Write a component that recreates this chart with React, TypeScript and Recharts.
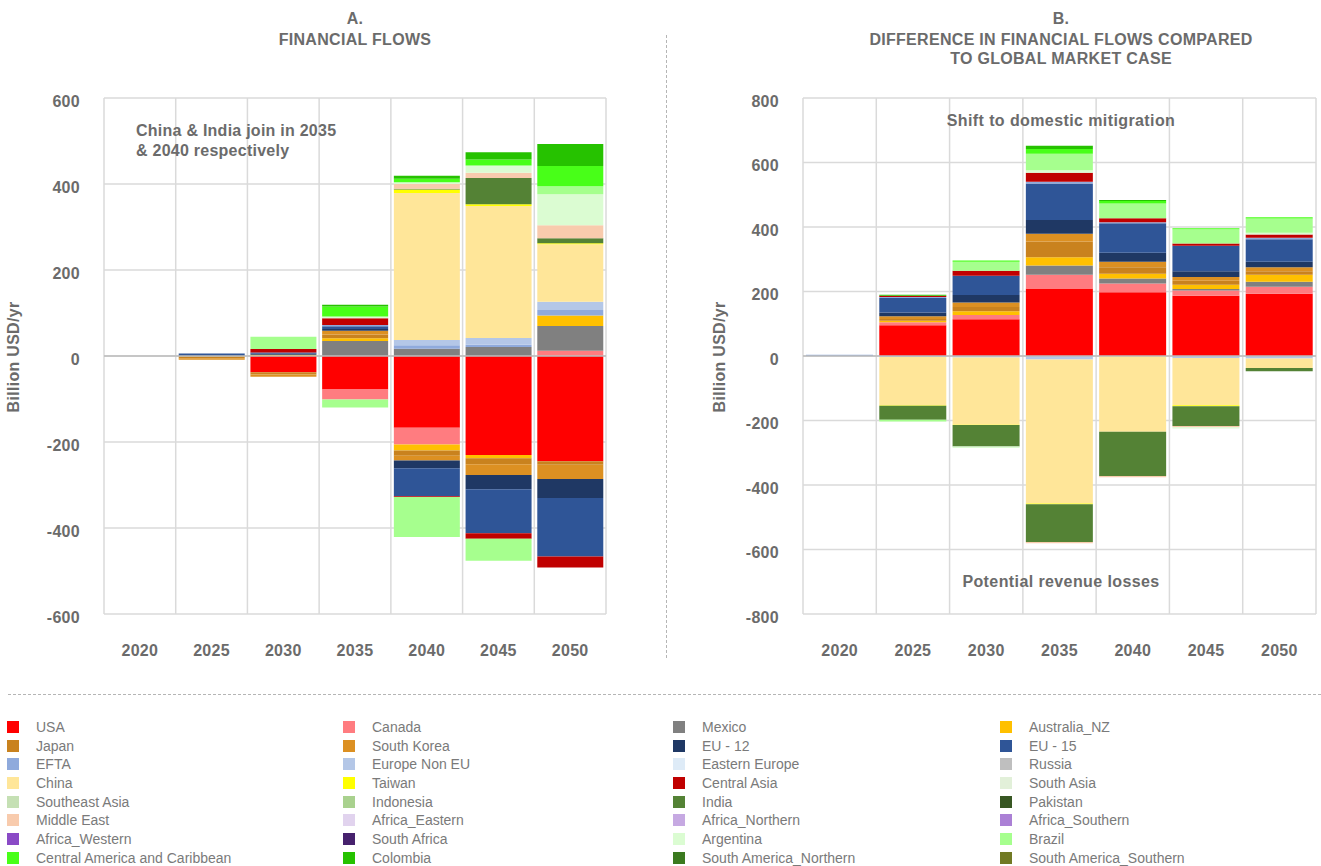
import React from 'react';
import { BarChart, Bar, XAxis, YAxis, CartesianGrid, ReferenceLine } from 'recharts';

const TEXT = '#6b6b6b';
const FONT = '"Liberation Sans", Arial, sans-serif';

const years = ['2020', '2025', '2030', '2035', '2040', '2045', '2050'];

const regions = [
  'USA', 'Canada', 'Mexico', 'Australia_NZ',
  'Japan', 'South Korea', 'EU - 12', 'EU - 15',
  'EFTA', 'Europe Non EU', 'Eastern Europe', 'Russia',
  'China', 'Taiwan', 'Central Asia', 'South Asia',
  'Southeast Asia', 'Indonesia', 'India', 'Pakistan',
  'Middle East', 'Africa_Eastern', 'Africa_Northern', 'Africa_Southern',
  'Africa_Western', 'South Africa', 'Argentina', 'Brazil',
  'Central America and Caribbean', 'Colombia', 'South America_Northern', 'South America_Southern',
];

const regionColors = [
  '#ff0000', '#ff7c80', '#808080', '#ffc000',
  '#c9821e', '#dc9022', '#1f3864', '#2f5597',
  '#8faadc', '#b4c7e7', '#deebf7', '#bfbfbf',
  '#ffe699', '#ffff00', '#c00000', '#e2f0d9',
  '#c5e0b4', '#a9d18e', '#548235', '#385723',
  '#f8cbad', '#e1d3ee', '#c6a9e2', '#ab80d5',
  '#8a4ac6', '#46216d', '#dbfcd2', '#a6ff8e',
  '#48ff18', '#26c200', '#3b7a1f', '#717a24',
];

// A. financial flows (billion USD/yr)
const aUSA = [0, 0, -38, -78, -167, -230, -245];
const aCanada = [0, 0, 0, -23, -39, 0, 12];
const aMexico = [0, 0, 0, 35, 17, 21, 58];
const aAustraliaNZ = [0, -1, 3, 6, -14, -8, 24];
const aJapan = [0, -4, -5, 9, -12, -14, -8];
const aSouthKorea = [0, -4, -5, 9, -11, -25, -33];
const aEU12 = [0, 2, 2, 4, -18, -33, -44];
const aEU15 = [0, 4, 3, 6, -65, -102, -136];
const aEFTA = [0, 0, 0, 3, 8, 5, 13];
const aEuropeNonEU = [0, 0, 0, 0, 12, 16, 19];
const aEasternEurope = [0, 0, 0, 0, 0, 0, 0];
const aRussia = [0, 0, 0, 0, 0, 0, 0];
const aChina = [0, 0, 0, 0, 342, 307, 134];
const aTaiwan = [0, 0, 0, 0, 8, 4, 2];
const aCentralAsia = [0, 0, 8, 16, -2, -13, -26];
const aSouthAsia = [0, 0, 0, 0, 0, 0, 0];
const aSoutheastAsia = [0, 0, 0, 0, 0, 0, 0];
const aIndonesia = [0, 0, 0, 0, 0, 0, 0];
const aIndia = [0, 0, 0, 0, 2, 61, 12];
const aPakistan = [0, 0, 0, 0, 0, 0, 0];
const aMiddleEast = [0, 0, 0, 0, 11, 12, 30];
const aAfricaEastern = [0, 0, 0, 0, 0, 0, 0];
const aAfricaNorthern = [0, 0, 0, 0, 0, 0, 0];
const aAfricaSouthern = [0, 0, 0, 0, 0, 0, 0];
const aAfricaWestern = [0, 0, 0, 0, 0, 0, 0];
const aSouthAfrica = [0, 0, 0, 0, 0, 0, 0];
const aArgentina = [0, 0, 0, 4, 4, 17, 72];
const aBrazil = [0, 0, 29, -19, -93, -51, 19];
const aCentralAmerica = [0, 0, 0, 23, 8, 14, 47];
const aColombia = [0, 0, 0, 4, 7, 17, 51];
const aSANorthern = [0, 0, 0, 0, 0, 0, 0];
const aSASouthern = [0, 0, 0, 0, 0, 0, 0];

// B. difference compared to global market case
const bUSA = [0, 95, 114, 209, 198, 187, 193];
const bCanada = [0, 10, 13, 43, 27, 16, 22];
const bMexico = [0, 0, 0, 29, 15, 5, 15];
const bAustraliaNZ = [0, 4, 12, 25, 15, 13, 22];
const bJapan = [0, 6, 13, 49, 20, 12, 11];
const bSouthKorea = [0, 8, 14, 24, 17, 12, 12];
const bEU12 = [0, 12, 23, 43, 28, 18, 17];
const bEU15 = [0, 45, 60, 113, 92, 79, 70];
const bEFTA = [4, 3, 0, 5, 3, 0, 5];
const bEuropeNonEU = [0, -3, -5, -11, 0, -6, -8];
const bEasternEurope = [0, 0, 0, 0, 0, 0, 0];
const bRussia = [0, 0, 0, 0, 0, 0, 0];
const bChina = [0, -150, -208, -446, -235, -147, -29];
const bTaiwan = [0, -1, -1, -3, 0, -3, 0];
const bCentralAsia = [0, 4, 15, 28, 12, 7, 10];
const bSouthAsia = [0, 0, 0, 0, 0, 0, 0];
const bSoutheastAsia = [0, 0, 0, 0, 0, 0, 0];
const bIndonesia = [0, 0, 0, 0, 0, 0, 0];
const bIndia = [0, -44, -67, -117, -137, -61, -10];
const bPakistan = [0, 0, 0, 0, 0, 0, 0];
const bMiddleEast = [0, 0, 0, -4, -4, -4, 0];
const bAfricaEastern = [0, 0, 0, 0, 0, 0, 0];
const bAfricaNorthern = [0, 0, 0, 0, 0, 0, 0];
const bAfricaSouthern = [0, 0, 0, 0, 0, 0, 0];
const bAfricaWestern = [0, 0, 0, 0, 0, 0, 0];
const bSouthAfrica = [0, 0, 0, 0, 0, 0, 0];
const bArgentina = [0, 0, -4, 8, 0, -4, 5];
const bBrazil = [0, -5, 28, 51, 46, 44, 44];
const bCentralAmerica = [0, 0, 4, 15, 8, 3, 4];
const bColombia = [0, 3, 0, 10, 3, 0, 0];
const bSANorthern = [0, 0, 0, 0, 0, 0, 0];
const bSASouthern = [0, 0, 0, 0, 0, 0, 0];

const flowsA = [
  aUSA, aCanada, aMexico, aAustraliaNZ, aJapan, aSouthKorea, aEU12, aEU15,
  aEFTA, aEuropeNonEU, aEasternEurope, aRussia, aChina, aTaiwan, aCentralAsia, aSouthAsia,
  aSoutheastAsia, aIndonesia, aIndia, aPakistan, aMiddleEast, aAfricaEastern, aAfricaNorthern, aAfricaSouthern,
  aAfricaWestern, aSouthAfrica, aArgentina, aBrazil, aCentralAmerica, aColombia, aSANorthern, aSASouthern,
];

const diffB = [
  bUSA, bCanada, bMexico, bAustraliaNZ, bJapan, bSouthKorea, bEU12, bEU15,
  bEFTA, bEuropeNonEU, bEasternEurope, bRussia, bChina, bTaiwan, bCentralAsia, bSouthAsia,
  bSoutheastAsia, bIndonesia, bIndia, bPakistan, bMiddleEast, bAfricaEastern, bAfricaNorthern, bAfricaSouthern,
  bAfricaWestern, bSouthAfrica, bArgentina, bBrazil, bCentralAmerica, bColombia, bSANorthern, bSASouthern,
];

const ticksA = [-600, -400, -200, 0, 200, 400, 600];
const ticksB = [-800, -600, -400, -200, 0, 200, 400, 600, 800];

const toRows = (series: number[][]) =>
  years.map((year, i) => {
    const row: Record<string, string | number> = { year };
    series.forEach((vals, k) => {
      row[`r${k}`] = vals[i];
    });
    return row;
  });

// vertical grid lines sit on the category boundaries, not the centres
const bandLines = (props: any) => {
  const o = props.offset;
  const lines: number[] = [];
  for (let i = 0; i <= years.length; i++) lines.push(o.left + (o.width * i) / years.length);
  return lines;
};

interface FlowChartProps {
  series: number[][];
  ticks: number[];
  width: number;
  axisWidth: number;
  rightMargin: number;
}

const FlowChart = ({ series, ticks, width, axisWidth, rightMargin }: FlowChartProps) => (
  <BarChart
    width={width}
    height={680}
    data={toRows(series)}
    stackOffset="sign"
    barCategoryGap={3}
    margin={{ top: 98, right: rightMargin, bottom: 0, left: 0 }}
  >
    <CartesianGrid stroke="#dadada" strokeWidth={1.5} verticalCoordinatesGenerator={bandLines} />
    <XAxis
      dataKey="year"
      interval={0}
      axisLine={false}
      tickLine={false}
      tickSize={0}
      tickMargin={31}
      height={66}
      tick={{ fill: TEXT, fontSize: 16, fontWeight: 700, fontFamily: FONT, letterSpacing: 0.3 }}
    />
    <YAxis
      type="number"
      domain={[ticks[0], ticks[ticks.length - 1]]}
      ticks={ticks}
      interval={0}
      allowDataOverflow
      axisLine={false}
      tickLine={false}
      tickSize={0}
      tickMargin={24}
      width={axisWidth}
      tick={{ fill: TEXT, fontSize: 16, fontWeight: 700, fontFamily: FONT, letterSpacing: 0.3, dy: 3 }}
    />
    {regions.map((name, k) => (
      <Bar
        key={name}
        dataKey={`r${k}`}
        name={name}
        stackId="s"
        fill={regionColors[k]}
        isAnimationActive={false}
      />
    ))}
    <ReferenceLine y={0} stroke="#bdbdbd" strokeWidth={1.5} />
  </BarChart>
);

const Centered = ({ cx, cy, children, spacing = 0.3 }: { cx: number; cy: number; children: React.ReactNode; spacing?: number }) => (
  <div
    style={{
      position: 'absolute',
      left: cx - 300,
      top: cy - 10,
      width: 600,
      lineHeight: '20px',
      textAlign: 'center',
      fontSize: 16,
      fontWeight: 700,
      letterSpacing: spacing,
      color: TEXT,
      whiteSpace: 'nowrap',
    }}
  >
    {children}
  </div>
);

const AxisTitle = ({ x }: { x: number }) => (
  <div
    style={{
      position: 'absolute',
      left: x - 80,
      top: 347,
      width: 160,
      lineHeight: '20px',
      textAlign: 'center',
      fontSize: 16,
      fontWeight: 700,
      letterSpacing: 0.3,
      color: TEXT,
      transform: 'rotate(-90deg)',
    }}
  >
    Billion USD/yr
  </div>
);

const legendColX = [7, 343, 673, 1000];
const legendRowY = [727, 746, 764, 783, 802, 820, 839, 858];

const App = () => (
  <div
    style={{
      position: 'absolute',
      left: 0,
      top: 0,
      width: 1321,
      height: 866,
      background: '#fff',
      fontFamily: FONT,
      overflow: 'hidden',
    }}
  >
    <Centered cx={355} cy={19}>A.</Centered>
    <Centered cx={355} cy={40}>FINANCIAL FLOWS</Centered>
    <Centered cx={1061} cy={19}>B.</Centered>
    <Centered cx={1061} cy={40}>DIFFERENCE IN FINANCIAL FLOWS COMPARED</Centered>
    <Centered cx={1061} cy={59}>TO GLOBAL MARKET CASE</Centered>

    <div style={{ position: 'absolute', left: 0, top: 0 }}>
      <FlowChart series={flowsA} ticks={ticksA} width={660} axisWidth={104} rightMargin={54} />
    </div>
    <div style={{ position: 'absolute', left: 660, top: 0 }}>
      <FlowChart series={diffB} ticks={ticksB} width={661} axisWidth={143} rightMargin={5} />
    </div>

    <AxisTitle x={14} />
    <AxisTitle x={720} />

    <div
      style={{
        position: 'absolute',
        left: 136,
        top: 121,
        fontSize: 16,
        fontWeight: 700,
        letterSpacing: 0.25,
        color: TEXT,
        lineHeight: '20px',
      }}
    >
      China &amp; India join in 2035
      <br />
      &amp; 2040 respectively
    </div>
    <Centered cx={1061} cy={121} spacing={0.4}>Shift to domestic mitigration</Centered>
    <Centered cx={1061} cy={582} spacing={0.4}>Potential revenue losses</Centered>

    <div style={{ position: 'absolute', left: 666, top: 35, height: 623, borderLeft: '1px dashed #b5b5b5' }} />
    <div style={{ position: 'absolute', left: 8, top: 694, width: 1313, borderTop: '1px dashed #b5b5b5' }} />

    {regions.map((name, k) => {
      const x = legendColX[k % 4];
      const y = legendRowY[Math.floor(k / 4)];
      return (
        <div key={name} style={{ position: 'absolute', left: x, top: y - 9, height: 18, display: 'flex', alignItems: 'center' }}>
          <div style={{ width: 12, height: 12, background: regionColors[k] }} />
          <div style={{ marginLeft: 17, fontSize: 14, color: '#7a7a7a', whiteSpace: 'nowrap' }}>{name}</div>
        </div>
      );
    })}
  </div>
);

export default App;
